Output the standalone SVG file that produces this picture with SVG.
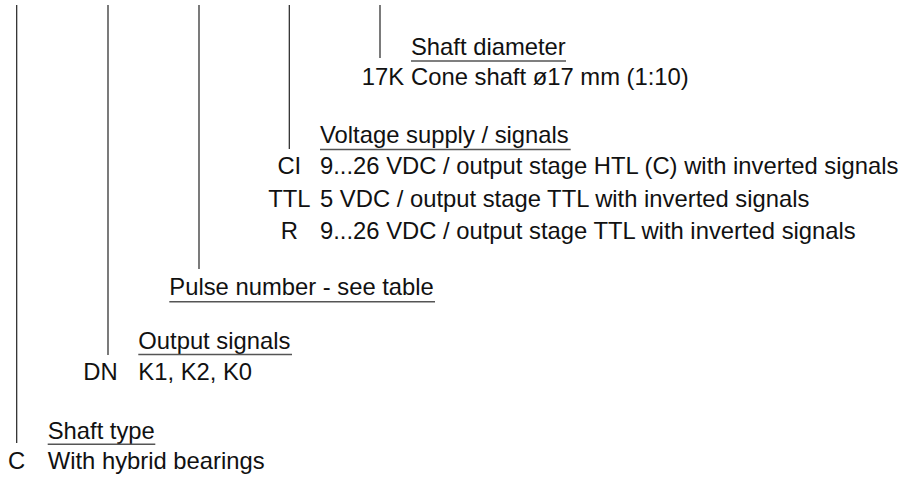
<svg xmlns="http://www.w3.org/2000/svg" width="907" height="479" viewBox="0 0 907 479">
<style>
text{font-family:"Liberation Sans",Arial,sans-serif;font-size:23.8px;fill:#111}
.c{text-anchor:middle}
.ln{stroke:#222;stroke-width:1.2;fill:none}
.ul{stroke:#555;stroke-width:1.5;fill:none}
</style>
<rect width="907" height="479" fill="#fff"/>
<g id="connectors">
<line class="ln" x1="16.7" y1="5" x2="16.7" y2="443"/>
<line class="ln" x1="108" y1="5" x2="108" y2="355"/>
<line class="ln" x1="199" y1="5" x2="199" y2="269"/>
<line class="ln" x1="289.3" y1="5" x2="289.3" y2="149"/>
<line class="ln" x1="380" y1="5" x2="380" y2="58"/>
</g>
<g id="shaft-diameter">
<text x="411" y="55">Shaft diameter</text>
<line class="ul" x1="411" y1="61" x2="566" y2="61"/>
<text x="361.7" y="85">17K</text>
<text x="411" y="85">Cone shaft ø17 mm (1:10)</text>
</g>
<g id="voltage-supply">
<text x="320" y="142.5">Voltage supply / signals</text>
<line class="ul" x1="320" y1="149.5" x2="570.7" y2="149.5"/>
<text class="c" x="289.3" y="174">CI</text>
<text x="320" y="174">9...26 VDC / output stage HTL (C) with inverted signals</text>
<text class="c" x="289.3" y="207">TTL</text>
<text x="320" y="207">5 VDC / output stage TTL with inverted signals</text>
<text class="c" x="289.3" y="239">R</text>
<text x="320" y="239">9...26 VDC / output stage TTL with inverted signals</text>
</g>
<g id="pulse-number">
<text x="169.3" y="295">Pulse number - see table</text>
<line class="ul" x1="169.3" y1="301.7" x2="435" y2="301.7"/>
</g>
<g id="output-signals">
<text x="138.3" y="349">Output signals</text>
<line class="ul" x1="138.3" y1="354.5" x2="292" y2="354.5"/>
<text x="83.3" y="380">DN</text>
<text x="138.3" y="380">K1, K2, K0</text>
</g>
<g id="shaft-type">
<text x="47.7" y="439">Shaft type</text>
<line class="ul" x1="47.7" y1="444.3" x2="155.3" y2="444.3"/>
<text class="c" x="16.7" y="469.3">C</text>
<text x="47.7" y="469.3">With hybrid bearings</text>
</g>
</svg>
